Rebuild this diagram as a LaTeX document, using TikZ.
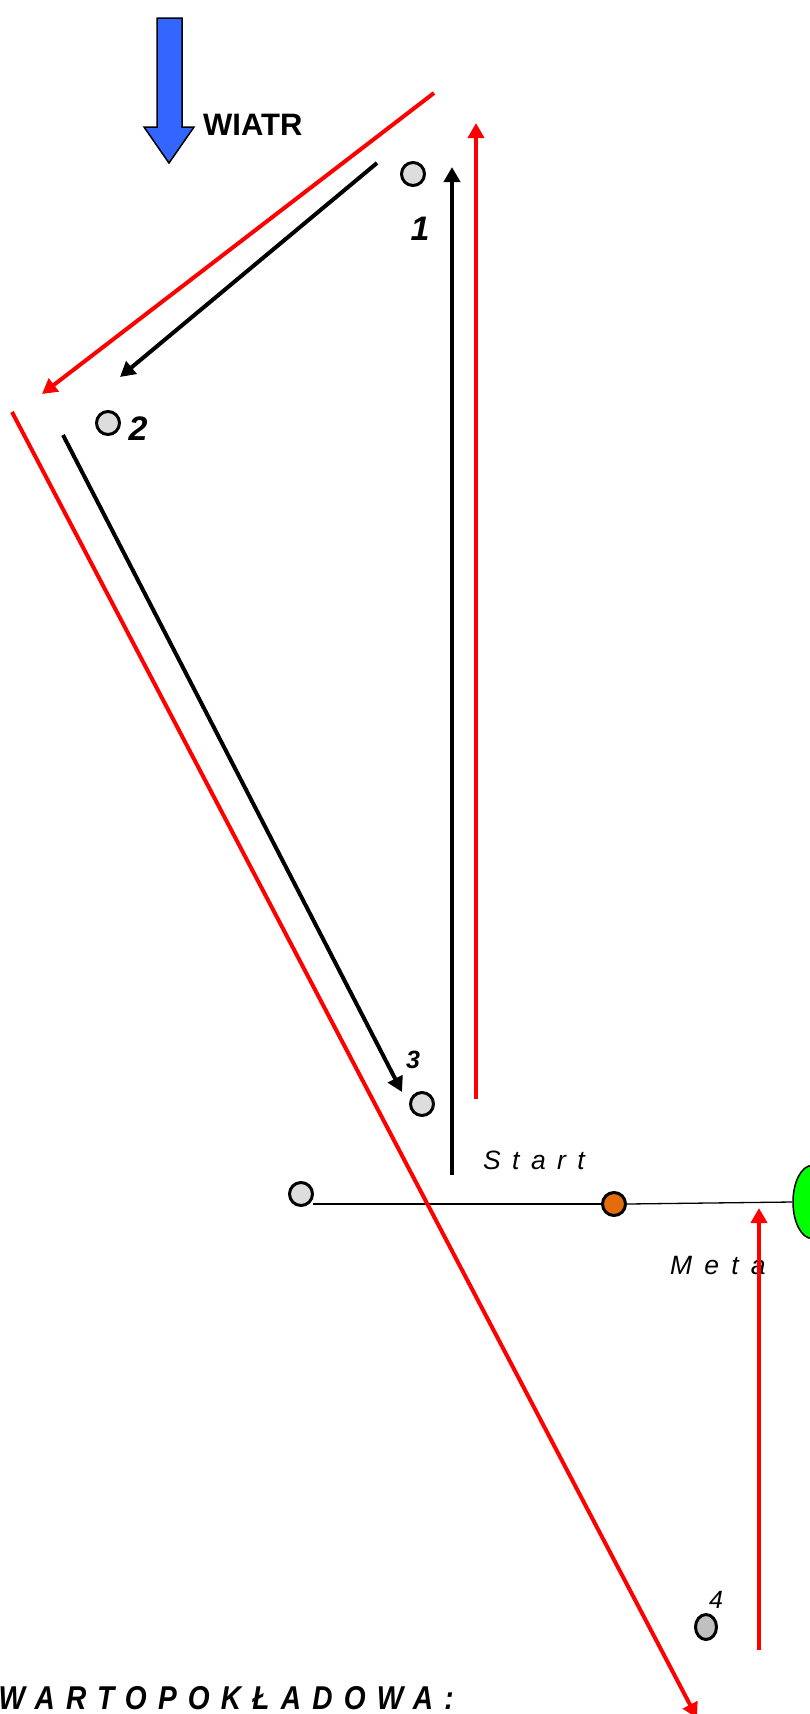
\documentclass[tikz,border=0pt]{standalone}
\usepackage{fontspec}
\setmainfont{Liberation Sans}
\usepackage{graphicx}
\usetikzlibrary{shapes.geometric, arrows.meta, positioning}
\definecolor{windblue}{HTML}{3366FF}
\definecolor{buoygray}{HTML}{DDDDDD}
\definecolor{darkbuoy}{HTML}{C0C0C0}
\definecolor{boatorange}{HTML}{E46C0A}
\definecolor{finishgreen}{HTML}{00FF00}

\begin{document}
\begin{tikzpicture}[
    x=1pt, y=-1pt,
    buoy/.style={circle, draw, line width=3pt, fill=buoygray, minimum size=23pt, inner sep=0pt},
    num/.style={inner sep=0pt, anchor=base, font=\fontsize{34}{40}\selectfont\bfseries\itshape},
    smallnum/.style={inner sep=0pt, anchor=base, font=\fontsize{25}{30}\selectfont\itshape},
    spaced/.style={inner sep=0pt, anchor=base west, font=\fontsize{26.5}{30}\selectfont\itshape\addfontfeatures{LetterSpace=43}},
    course/.style={line width=4pt, -{Triangle[length=15pt,width=16pt]}},
    redcourse/.style={course, red},
    line/.style={line width=1.3pt}
]
\useasboundingbox (0,0) rectangle (809,1714);

% wind
\draw [fill=windblue, line width=1.5pt] (157,18) -- (182,18) -- (182,127) -- (194,127) -- (169,163) -- (144,127) -- (157,127) -- cycle;
\node [inner sep=0pt, anchor=base west, font=\fontsize{31}{36}\selectfont\bfseries] (wind) at (203,135) {WIATR};

% marks
\node [buoy] (buoy1) at (413,174) {};
\node [buoy] (buoy2) at (108,423) {};
\node [buoy] (buoy3) at (422,1104) {};
\node [ellipse, draw, line width=3pt, fill=darkbuoy, minimum width=21pt, minimum height=25pt, inner sep=0pt] (buoy4) at (706,1627) {};
\node [num] (n1) at (420,240) {1};
\node [num] (n2) at (138,440) {2};
\node [smallnum, font=\fontsize{25}{30}\selectfont\bfseries\itshape] (n3) at (413,1068) {3};
\node [smallnum] (n4) at (716,1608) {4};

% start and finish line
\node [buoy] (pin) at (301,1194) {};
\node [buoy, fill=boatorange] (boat) at (614,1204) {};
\node [ellipse, draw, line width=1.5pt, fill=finishgreen, minimum width=38pt, minimum height=73pt, inner sep=0pt] (finish) at (812,1202) {};
\coordinate (lineend) at (313,1204);
\draw [line] (lineend) -- (boat.west);
\draw [line] (boat.east) -- (finish.west);
\node [spaced] (start) at (483,1169) {Start};
\node [spaced, font=\fontsize{26.5}{30}\selectfont\itshape\addfontfeatures{LetterSpace=46}] (meta) at (670,1274) {Meta};

% black course
\coordinate (k0) at (452,1175);
\coordinate (k1) at (452,167);
\coordinate (k2) at (377,163);
\coordinate (k3) at (120,377);
\coordinate (k4) at (63,435);
\coordinate (k5) at (402,1092);
\draw [course] (k0) -- (k1);
\draw [course] (k2) -- (k3);
\draw [course] (k4) -- (k5);

% red course
\coordinate (r0) at (476,1099);
\coordinate (r1) at (476,123);
\coordinate (r2) at (434,93);
\coordinate (r3) at (42,394);
\coordinate (r4) at (12,412);
\coordinate (r5) at (697,1718);
\coordinate (r6) at (759,1650);
\coordinate (r7) at (759,1208);
\draw [redcourse] (r0) -- (r1);
\draw [redcourse] (r2) -- (r3);
\draw [redcourse] (r4) -- (r5);
\draw [redcourse] (r6) -- (r7);

\node [inner sep=0pt, anchor=base east, font=\fontsize{33}{38}\selectfont\bfseries\itshape\addfontfeatures{LetterSpace=40}] (note) at (454,1709) {\scalebox{0.85}[1]{WARTOPOKŁADOWA:}};

\end{tikzpicture}
\end{document}
